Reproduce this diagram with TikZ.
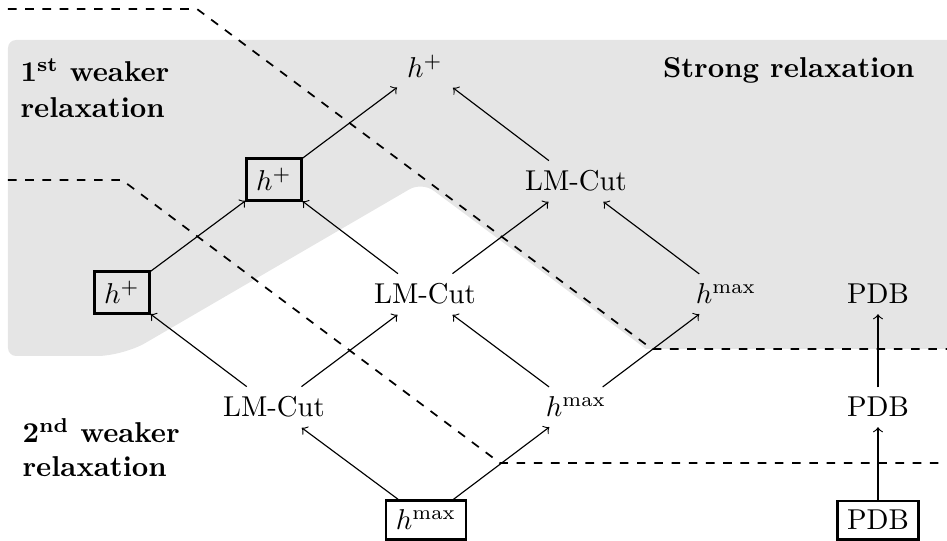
\documentclass[tikz,border=0pt]{standalone}
\begin{document}
\begin{tikzpicture}[x=0.3484pt, y=-0.3484pt,
  lbl/.style={font=\bfseries, inner sep=0pt},
  hnode/.style={anchor=base},
  boxed/.style={draw, thick, anchor=base},
  arr/.style={->},
  sepline/.style={dashed, line width=0.6pt}]
\useasboundingbox (0,0) rectangle (947,541);
% gray area
\fill[gray!20] [rounded corners=2.8pt] (8,200) -- (8,40) -- (960,40) -- (960,349)
  [sharp corners] -- (646,349) [rounded corners=5pt] -- (422,182)
  [rounded corners=9pt] -- (123,356) [rounded corners=2.8pt] -- (8,356) -- cycle;
% dashed separators
\coordinate (a1) at (8,9);
\coordinate (a2) at (197,9);
\coordinate (a3) at (652,349);
\coordinate (a4) at (947,349);
\coordinate (b1) at (8,180);
\coordinate (b2) at (122,180);
\coordinate (b3) at (500,463);
\coordinate (b4) at (947,463);
\draw[sepline] (a1) -- (a2) -- (a3) -- (a4);
\draw[sepline] (b1) -- (b2) -- (b3) -- (b4);
% labels
\node[lbl, anchor=base west] (l1a) at (20,82) {1\textsuperscript{st} weaker};
\node[lbl, anchor=base west] (l1b) at (20,118) {relaxation};
\node[lbl, anchor=base west] (l2a) at (22,443) {2\textsuperscript{nd} weaker};
\node[lbl, anchor=base west] (l2b) at (22,477) {relaxation};
\node[lbl, anchor=base east] (ls) at (915,78) {Strong relaxation};
% nodes
\node[hnode] (hp) at (425,78) {$h^+$};
\node[hnode] (lm1) at (576,191) {LM-Cut};
\node[boxed] (hpb1) at (274,191) {$h^+$};
\node[boxed] (hpb2) at (122,304) {$h^+$};
\node[hnode] (lm2) at (425,304) {LM-Cut};
\node[hnode] (hm2) at (726,304) {$h^{\max}$};
\node[hnode] (pdb2) at (878,304) {PDB};
\node[hnode] (lm3) at (274,417) {LM-Cut};
\node[hnode] (hm3) at (576,417) {$h^{\max}$};
\node[hnode] (pdb3) at (878,417) {PDB};
\node[boxed] (hmb) at (426,530) {$h^{\max}$};
\node[boxed] (pdbb) at (878,530) {PDB};
% edges
\draw[arr] (hmb) -- (lm3);
\draw[arr] (hmb) -- (hm3);
\draw[arr] (lm3) -- (hpb2);
\draw[arr] (lm3) -- (lm2);
\draw[arr] (hm3) -- (lm2);
\draw[arr] (hm3) -- (hm2);
\draw[arr] (hpb2) -- (hpb1);
\draw[arr] (lm2) -- (hpb1);
\draw[arr] (lm2) -- (lm1);
\draw[arr] (hm2) -- (lm1);
\draw[arr] (hpb1) -- (hp);
\draw[arr] (lm1) -- (hp);
\draw[arr] (pdbb) -- (pdb3);
\draw[arr] (pdb3) -- (pdb2);
\end{tikzpicture}
\end{document}
